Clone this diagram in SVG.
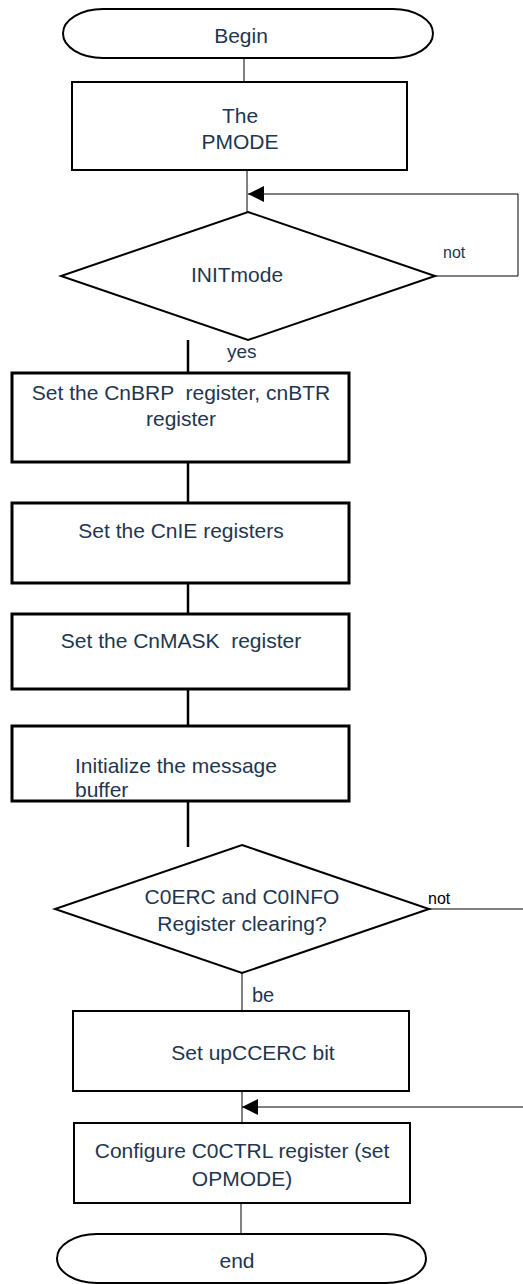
<svg xmlns="http://www.w3.org/2000/svg" width="523" height="1284" viewBox="0 0 523 1284">
<style>
.t{font-family:"Liberation Sans",Arial,sans-serif;font-size:21px;fill:#1f3650;text-anchor:middle}
.s{font-family:"Liberation Sans",Arial,sans-serif;font-size:16px;fill:#1f3650}
.shape{fill:#fff;stroke:#000;stroke-width:2}
.thick{fill:#fff;stroke:#000;stroke-width:3}
.c{fill:none;stroke:#000;stroke-width:1}
.c2{fill:none;stroke:#000;stroke-width:2.5}
</style>
<defs>
<marker id="ah" markerUnits="userSpaceOnUse" markerWidth="16" markerHeight="16" refX="16" refY="8" orient="auto">
<path d="M0,0 L16,8 L0,16 Z" fill="#000"/>
</marker>
</defs>
<rect width="523" height="1284" fill="#fff"/>
<g id="connectors">
<line class="c" x1="244" y1="58" x2="244" y2="82"/>
<line class="c" x1="247" y1="170" x2="247" y2="212"/>
<polyline class="c" points="435,276 518,276 518,194 248,194" marker-end="url(#ah)"/>
<line class="c2" x1="188" y1="340" x2="188" y2="373"/>
<line class="c2" x1="188" y1="462" x2="188" y2="503"/>
<line class="c2" x1="188" y1="583" x2="188" y2="614"/>
<line class="c2" x1="188" y1="689" x2="188" y2="726"/>
<line class="c2" x1="188" y1="801" x2="188" y2="847"/>
<line class="c" x1="429" y1="909" x2="523" y2="909"/>
<line class="c" x1="242" y1="973" x2="242" y2="1011"/>
<line class="c" x1="242" y1="1091" x2="242" y2="1123"/>
<line class="c" x1="523" y1="1107" x2="242" y2="1107" marker-end="url(#ah)"/>
<line class="c" x1="241" y1="1203" x2="241" y2="1234"/>
<text class="s" x="443" y="258">not</text>
<text class="s" x="227" y="358" style="font-size:19px">yes</text>
<text class="s" x="428" y="904" style="fill:#000">not</text>
<text class="s" x="252" y="1002" style="font-size:20px">be</text>
</g>
<g id="begin">
<path class="shape" d="M103,9 L393,9 A40,24.5 0 0 1 393,58 L103,58 A40,24.5 0 0 1 103,9 Z"/>
<text class="t" x="241" y="43">Begin</text>
</g>
<g id="pmode">
<rect class="shape" x="72" y="82" width="335" height="88"/>
<text class="t" x="240" y="123">The</text>
<text class="t" x="240" y="149">PMODE</text>
</g>
<g id="initmode">
<polygon class="shape" points="248,212 435,276 248,340 61,276"/>
<text class="t" x="237" y="282">INITmode</text>
</g>
<g id="brp">
<rect class="thick" x="12" y="373" width="337" height="89"/>
<text class="t" x="181" y="400" xml:space="preserve">Set the CnBRP  register, cnBTR</text>
<text class="t" x="181" y="426">register</text>
</g>
<g id="cnie">
<rect class="thick" x="12" y="503" width="337" height="80"/>
<text class="t" x="181" y="538">Set the CnIE registers</text>
</g>
<g id="cnmask">
<rect class="thick" x="12" y="614" width="337" height="75"/>
<text class="t" x="181" y="648" xml:space="preserve">Set the CnMASK  register</text>
</g>
<g id="initbuf">
<rect class="thick" x="12" y="726" width="337" height="75"/>
<text class="t" x="75" y="773" style="text-anchor:start">Initialize the message</text>
<text class="t" x="75" y="797" style="text-anchor:start">buffer</text>
</g>
<g id="clearing">
<polygon class="shape" points="242,845 429,909 242,973 55,909"/>
<text class="t" x="242" y="904">C0ERC and C0INFO</text>
<text class="t" x="242" y="931">Register clearing?</text>
</g>
<g id="upccerc">
<rect class="shape" x="73" y="1011" width="336" height="80"/>
<text class="t" x="253" y="1060">Set upCCERC bit</text>
</g>
<g id="c0ctrl">
<rect class="shape" x="74" y="1123" width="336" height="80"/>
<text class="t" x="242" y="1158">Configure C0CTRL register (set</text>
<text class="t" x="242" y="1186">OPMODE)</text>
</g>
<g id="end">
<path class="shape" d="M97,1234 L386,1234 A40,24.5 0 0 1 386,1283 L97,1283 A40,24.5 0 0 1 97,1234 Z"/>
<text class="t" x="237" y="1268">end</text>
</g>
</svg>
